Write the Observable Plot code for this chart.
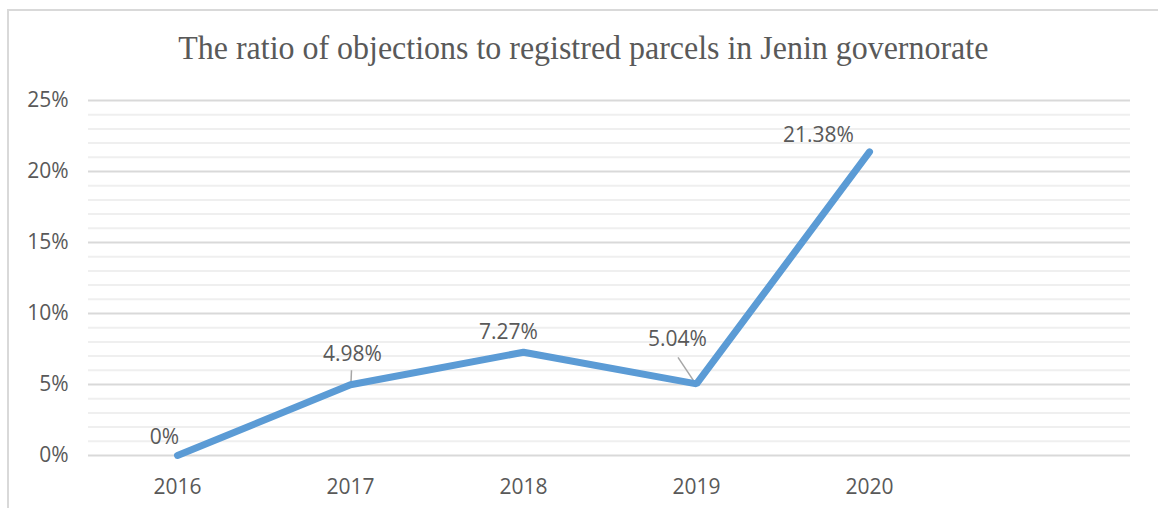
<!DOCTYPE html>
<html>
<head>
<meta charset="utf-8">
<script src="https://cdn.jsdelivr.net/npm/d3@7"></script>
<script src="https://cdn.jsdelivr.net/npm/@observablehq/plot@0.6"></script>
<style>
  html, body { margin: 0; padding: 0; background: #fff; }
  #wrap { position: relative; width: 1158px; height: 508px; overflow: hidden; background: #fff; }
  #frame { position: absolute; left: 7px; top: 9px; width: 1200px; height: 600px; border: 2px solid #d9d9d9; box-sizing: border-box; }
  #title { position: absolute; left: 8px; top: 8px; width: 1150px; height: 80px; text-align: center;
           font-family: "Liberation Serif", "Times New Roman", Times, serif; font-size: 33px; color: #595959;
           line-height: 80px; white-space: nowrap; }
  #title span { display: inline-block; transform-origin: center; }
  #chart { position: absolute; left: 0; top: 80px; }
</style>
</head>
<body>
<div id="wrap">
  <div id="frame"></div>
  <div id="title"><span>The ratio of objections to registred parcels in Jenin governorate</span></div>
  <div id="chart"></div>
</div>
<script>
const years = ["2016", "2017", "2018", "2019", "2020"];
const extraCategory = [" "];
const values = [0, 4.98, 7.27, 5.04, 21.38];
const labels = ["0%", "4.98%", "7.27%", "5.04%", "21.38%"];
const majorTicks = [0, 5, 10, 15, 20, 25];
const minorTicks = d3.range(0, 26, 1).filter(v => v % 5 !== 0);

const data = years.map((y, i) => ({year: y, value: values[i], label: labels[i]}));

const lab = (i, dx, dy) => Plot.text([data[i]], {x: "year", y: "value", text: "label", dx, dy, fill: "#595959"});

function leaders(index, scales) {
  const x = scales.x, y = scales.y;
  const g = d3.create("svg:g").attr("stroke", "#a6a6a6").attr("stroke-width", 1.5);
  const px = d => x(d.year) + (x.bandwidth ? x.bandwidth() / 2 : 0);
  const a = data[1];
  g.append("line").attr("x1", px(a) + 1).attr("y1", y(a.value) - 2).attr("x2", px(a) + 1.5).attr("y2", y(a.value) - 14);
  const b = data[3];
  g.append("line").attr("x1", px(b) - 2).attr("y1", y(b.value) - 2).attr("x2", px(b) - 18).attr("y2", y(b.value) - 26);
  return g.node();
}

const plot = Plot.plot({
  width: 1158,
  height: 428,
  marginLeft: 88,
  marginRight: 28,
  marginTop: 20,
  marginBottom: 53,
  style: {fontFamily: "'Open Sans', sans-serif", fontSize: "21px", color: "#595959", background: "transparent"},
  x: {type: "point", domain: [...years, ...extraCategory], padding: 0.5, label: null, tickSize: 0, tickPadding: 24},
  y: {domain: [0, 25], ticks: majorTicks, tickFormat: d => d + "%", label: null, tickSize: 0, tickPadding: 20},
  marks: [
    Plot.ruleY(minorTicks, {stroke: "#efefef", strokeWidth: 2}),
    Plot.ruleY(majorTicks, {stroke: "#d9d9d9", strokeWidth: 2}),
    leaders,
    Plot.line(data, {x: "year", y: "value", stroke: "#5b9bd5", strokeWidth: 7, strokeLinecap: "round", strokeLinejoin: "miter"}),
    lab(0, -13, -18),
    lab(1, 2, -31),
    lab(2, -15, -20),
    lab(3, -19, -45),
    lab(4, -51, -17)
  ]
});
document.getElementById("chart").appendChild(plot);

const span = document.querySelector("#title span");
const w = span.getBoundingClientRect().width;
span.style.transform = `scaleX(${810 / w})`;
</script>
</body>
</html>
